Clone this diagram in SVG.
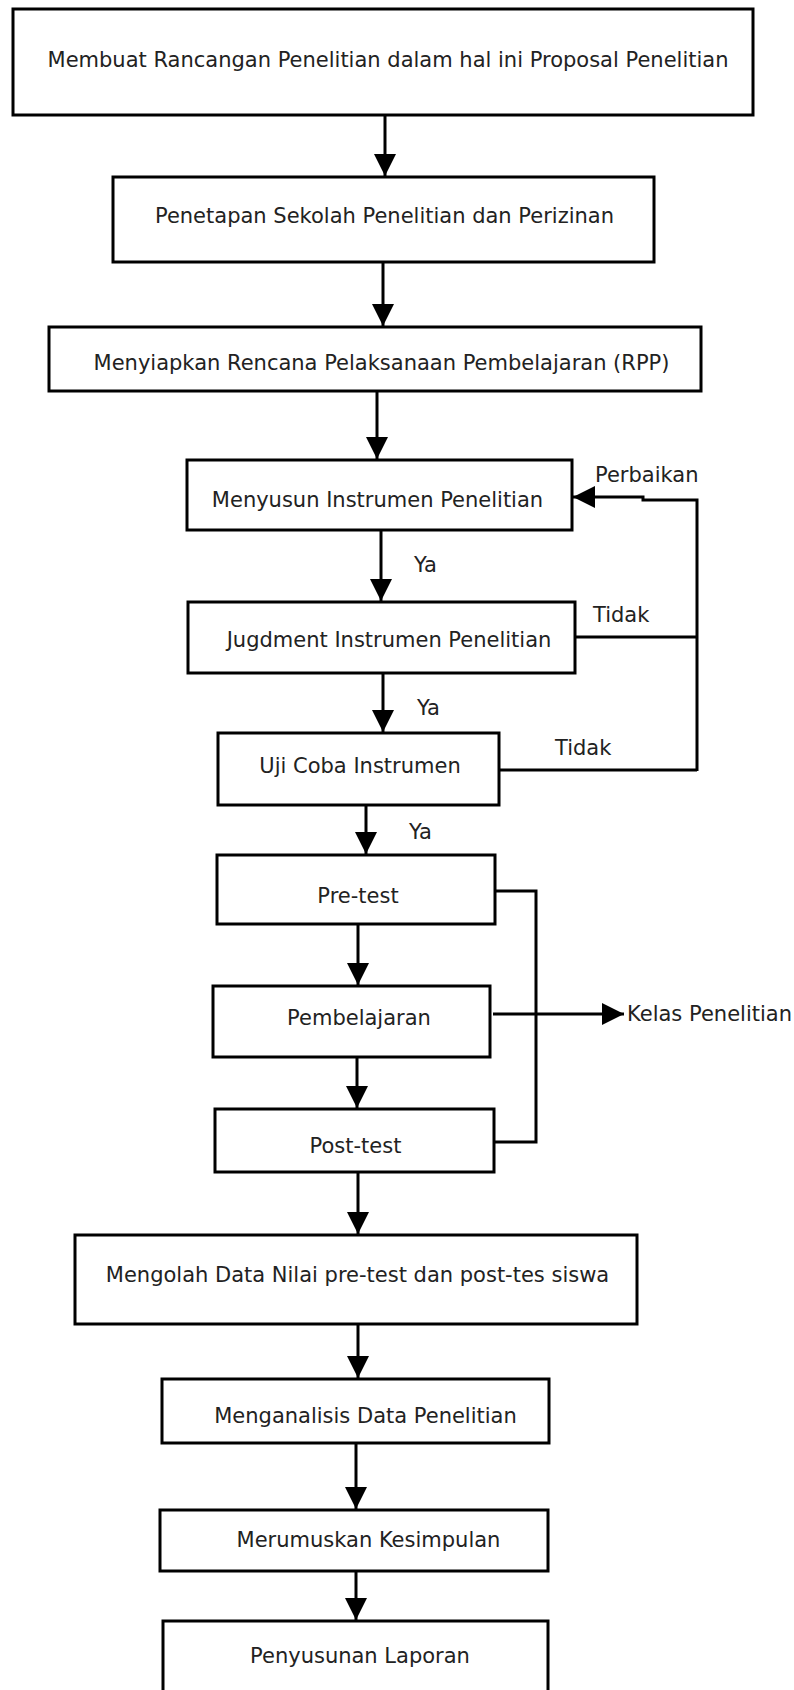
<svg xmlns="http://www.w3.org/2000/svg" width="794" height="1690" viewBox="0 0 794 1690">
<style>
.box{fill:#fff;stroke:#000;stroke-width:3}
.t{font-family:"DejaVu Sans",Verdana,sans-serif;font-size:21px;fill:#222}
.c{text-anchor:middle}
.ln{fill:none;stroke:#000;stroke-width:3}
</style>
<defs>
<marker id="ah" markerUnits="userSpaceOnUse" markerWidth="22" markerHeight="22" refX="22" refY="11" orient="auto">
<path d="M0,0 L22,11 L0,22 z" fill="#000"/>
</marker>
</defs>
<rect width="794" height="1690" fill="#fff"/>
<g id="connectors">
<path class="ln" d="M385,115 V176" marker-end="url(#ah)"/>
<path class="ln" d="M383,262 V326" marker-end="url(#ah)"/>
<path class="ln" d="M377,391 V459" marker-end="url(#ah)"/>
<path class="ln" d="M381,530 V601" marker-end="url(#ah)"/>
<path class="ln" d="M383,673 V732" marker-end="url(#ah)"/>
<path class="ln" d="M366,805 V854" marker-end="url(#ah)"/>
<path class="ln" d="M358,924 V985" marker-end="url(#ah)"/>
<path class="ln" d="M357,1057 V1108" marker-end="url(#ah)"/>
<path class="ln" d="M358,1172 V1234" marker-end="url(#ah)"/>
<path class="ln" d="M358,1324 V1378" marker-end="url(#ah)"/>
<path class="ln" d="M356,1443 V1509" marker-end="url(#ah)"/>
<path class="ln" d="M356,1571 V1620" marker-end="url(#ah)"/>
<path class="ln" d="M697,771 V500 H643 V497 H573" marker-end="url(#ah)"/>
<path class="ln" d="M575,637 H697"/>
<path class="ln" d="M499,770 H697"/>
<path class="ln" d="M495,891 H536 V1142 H494"/>
<path class="ln" d="M493,1014 H624" marker-end="url(#ah)"/>
<text class="t" x="595" y="482">Perbaikan</text>
<text class="t" x="414" y="572">Ya</text>
<text class="t" x="593" y="622">Tidak</text>
<text class="t" x="417" y="715">Ya</text>
<text class="t" x="555" y="755">Tidak</text>
<text class="t" x="409" y="839">Ya</text>
<text class="t" x="627" y="1021" textLength="165" lengthAdjust="spacingAndGlyphs">Kelas Penelitian</text>
</g>
<g id="n1"><rect class="box" x="13" y="9" width="740" height="106"/><text class="t c" x="388" y="67">Membuat Rancangan Penelitian dalam hal ini Proposal Penelitian</text></g>
<g id="n2"><rect class="box" x="113" y="177" width="541" height="85"/><text class="t c" x="384.5" y="223">Penetapan Sekolah Penelitian dan Perizinan</text></g>
<g id="n3"><rect class="box" x="49" y="327" width="652" height="64"/><text class="t c" x="381.5" y="370">Menyiapkan Rencana Pelaksanaan Pembelajaran (RPP)</text></g>
<g id="n4"><rect class="box" x="187" y="460" width="385" height="70"/><text class="t c" x="377.5" y="507">Menyusun Instrumen Penelitian</text></g>
<g id="n5"><rect class="box" x="188" y="602" width="387" height="71"/><text class="t c" x="389" y="647">Jugdment Instrumen Penelitian</text></g>
<g id="n6"><rect class="box" x="218" y="733" width="281" height="72"/><text class="t c" x="360" y="773">Uji Coba Instrumen</text></g>
<g id="n7"><rect class="box" x="217" y="855" width="278" height="69"/><text class="t c" x="358" y="903">Pre-test</text></g>
<g id="n8"><rect class="box" x="213" y="986" width="277" height="71"/><text class="t c" x="359" y="1025">Pembelajaran</text></g>
<g id="n9"><rect class="box" x="215" y="1109" width="279" height="63"/><text class="t c" x="355.5" y="1153">Post-test</text></g>
<g id="n10"><rect class="box" x="75" y="1235" width="562" height="89"/><text class="t c" x="357.5" y="1282">Mengolah Data Nilai pre-test dan post-tes siswa</text></g>
<g id="n11"><rect class="box" x="162" y="1379" width="387" height="64"/><text class="t c" x="365.5" y="1423">Menganalisis Data Penelitian</text></g>
<g id="n12"><rect class="box" x="160" y="1510" width="388" height="61"/><text class="t c" x="368.5" y="1547">Merumuskan Kesimpulan</text></g>
<g id="n13"><rect class="box" x="163" y="1621" width="385" height="80"/><text class="t c" x="360" y="1663">Penyusunan Laporan</text></g>
</svg>
